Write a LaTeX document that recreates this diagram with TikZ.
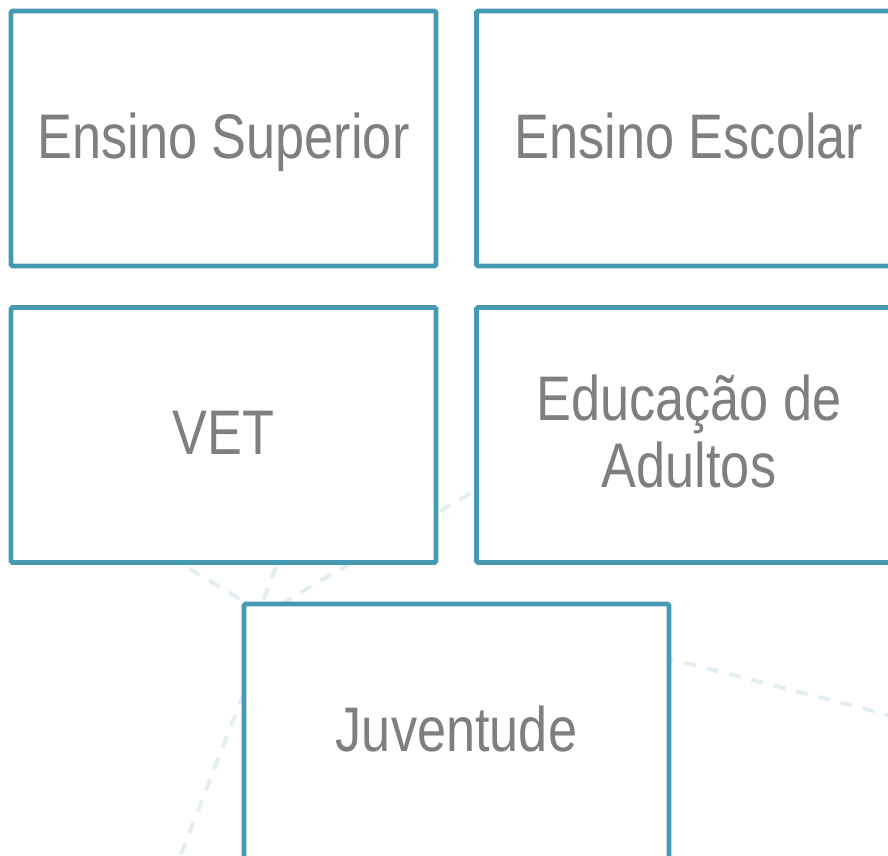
\documentclass[tikz,border=0pt]{standalone}
\usepackage{fontspec}
\setmainfont{Liberation Sans}[FakeStretch=0.83]
\definecolor{boxblue}{HTML}{4599B3}
\definecolor{txtgray}{HTML}{7F7F7F}
\definecolor{faint}{HTML}{E2EEF2}
\begin{document}
\begin{tikzpicture}[x=1pt,y=-1pt,
  card/.style={draw=boxblue,line width=4.8pt,fill=white,rounded corners=1.5pt,
    minimum width=425pt,minimum height=255pt,inner sep=0pt,
    text height=50pt,text depth=11pt,
    text=txtgray,align=center,font=\fontsize{63}{67}\selectfont},
  netline/.style={draw=faint,line width=4pt,dash pattern=on 12pt off 11pt}]
\useasboundingbox (0,0) rectangle (888,855);
% background network lines
\coordinate (p1) at (150,545);
\coordinate (p2) at (300,635);
\coordinate (p3) at (284,545);
\coordinate (p4) at (258,615);
\coordinate (p5) at (490,482);
\coordinate (p6) at (250,622);
\coordinate (p7) at (640,651);
\coordinate (p8) at (900,718);
\coordinate (p9) at (252,672);
\coordinate (p10) at (178,862);
\draw[netline] (p1) -- (p2);
\draw[netline] (p3) -- (p4);
\draw[netline] (p5) -- (p6);
\draw[netline] (p7) -- (p8);
\draw[netline] (p9) -- (p10);
% boxes
\node[card] (sup) at (223.5,138.5) {Ensino Superior};
\node[card] (esc) at (689,138.5) {Ensino Escolar};
\node[card] (vet) at (223.5,435) {VET};
\node[card,text height=115pt] (adu) at (689,435) {Educação de\\Adultos};
\node[card] (juv) at (456.5,731.5) {Juventude};
\end{tikzpicture}
\end{document}
